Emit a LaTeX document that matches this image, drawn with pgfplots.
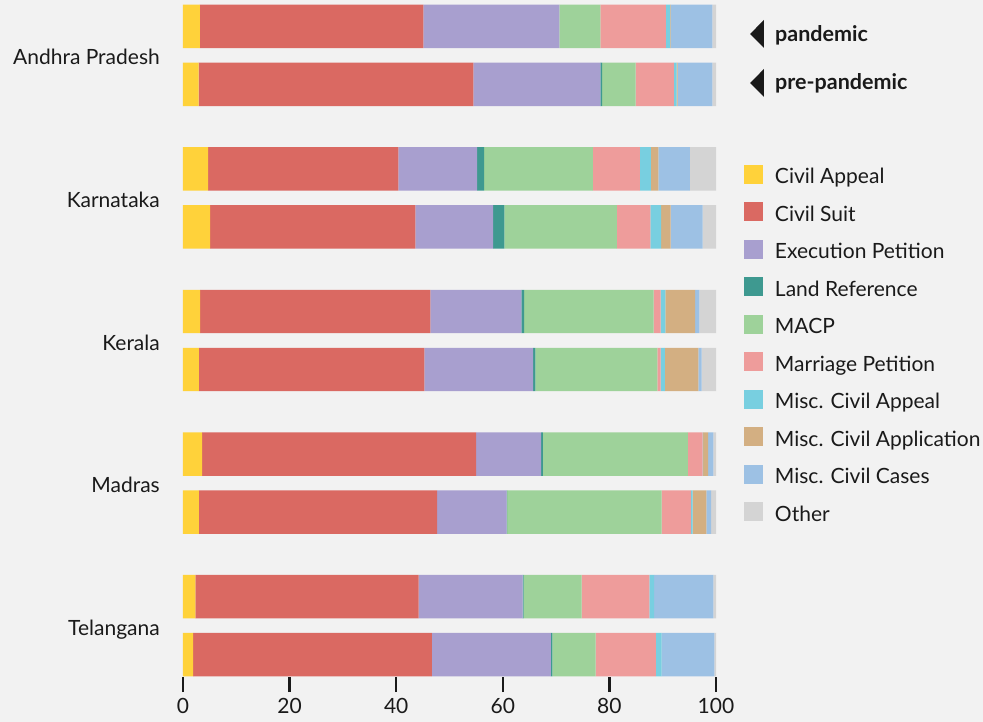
\documentclass[border=0pt]{standalone}
\usepackage{pgfplots}
\pgfplotsset{compat=1.18}
\usepackage{pgfplotstable}
\usepackage{fontspec}
\setmainfont{Lato}

\definecolor{bg}{HTML}{F2F2F2}
\definecolor{txt}{HTML}{1A1A1A}
\definecolor{cCA}{HTML}{FFD23A}
\definecolor{cCS}{HTML}{DA6962}
\definecolor{cEP}{HTML}{A89FCF}
\definecolor{cLR}{HTML}{3E9990}
\definecolor{cMACP}{HTML}{9ED29A}
\definecolor{cMP}{HTML}{EE9C9B}
\definecolor{cMCA}{HTML}{78CFE0}
\definecolor{cMCAPP}{HTML}{D3AF82}
\definecolor{cMCC}{HTML}{9DC1E4}
\definecolor{cOTH}{HTML}{D4D4D4}

% share of cases (%), pandemic row above pre-pandemic row for each court
\pgfplotstableread{
y ca cs ep lr macp mp mca mcapp mcc oth
-0.2035 3.15 41.95 25.5 0    7.7  12.3 0.8 0.1 7.8  0.7
0.2035  2.95 51.55 23.8 0.35 6.25 7.2  0.5 0.2 6.5  0.7
0.7965  4.7  35.7  14.8 1.3  20.4 8.8  2.1 1.4 5.9  4.9
1.2035  5.1  38.5  14.6 2.1  21.1 6.3  2.0 1.8 6.0  2.5
1.7965  3.2  43.2  17.1 0.5  24.3 1.3  0.9 5.6 0.8  3.1
2.2035  3.0  42.3  20.4 0.4  22.9 0.6  0.8 6.3 0.6  2.7
2.7965  3.6  51.4  12.2 0.3  27.2 2.8  0.1 0.9 1.0  0.5
3.2035  3.0  44.7  13.0 0.1  29.0 5.5  0.3 2.6 0.9  0.9
3.7965  2.3  41.9  19.5 0.2  10.9 12.7 0.9 0   11.1 0.5
4.2035  1.9  44.8  22.3 0.3  8.1  11.3 1.1 0   9.9  0.3
}\courts

\begin{document}
\begin{tikzpicture}[font=\fontsize{21}{25}\selectfont]
\fill[bg] (-183pt,-45pt) rectangle (800pt,677pt);
\begin{axis}[
    at={(0,0)}, anchor=south west,
    scale only axis, width=533pt, height=672pt,
    xbar stacked, bar width=0.305,
    every axis plot post/.append style={
        draw=none,
        legend image code/.code={\fill[##1,draw=none] (0pt,0pt) rectangle (19pt,19pt);}},
    xmin=0, xmax=100,
    ymin=-0.354, ymax=4.361, y dir=reverse,
    xtick={0,20,...,100},
    ytick={0,1,2,3,4},
    yticklabels={Andhra Pradesh,Karnataka,Kerala,Madras,Telangana},
    axis line style={draw=none},
    xtick pos=bottom, tick align=outside, major tick length=15pt,
    xtick style={draw=txt, line width=2.5pt},
    ytick style={draw=none},
    tick label style={font=\fontsize{21}{25}\selectfont, text=txt},
    /pgf/number format/assume math mode=true,
    yticklabel style={anchor=base east, inner sep=0pt, xshift=-8pt, yshift=-9.5pt},
    xticklabel style={anchor=base, inner sep=0pt, yshift=-21pt},
    clip=false,
    legend style={at={(axis cs:105.25,0.768)}, anchor=north west,
        draw=none, fill=none, inner sep=0pt, outer sep=0pt,
        row sep=14.5pt, text=txt,
        font=\fontsize{21}{25}\selectfont,
        nodes={anchor=base west, inner sep=0pt, text depth=4pt},
        /tikz/every odd column/.append style={column sep=12pt}},
]
\addplot[fill=cCA]    table[x=ca,    y=y] {\courts};
\addlegendentry{Civil Appeal}
\addplot[fill=cCS]    table[x=cs,    y=y] {\courts};
\addlegendentry{Civil Suit}
\addplot[fill=cEP]    table[x=ep,    y=y] {\courts};
\addlegendentry{Execution Petition}
\addplot[fill=cLR]    table[x=lr,    y=y] {\courts};
\addlegendentry{Land Reference}
\addplot[fill=cMACP]  table[x=macp,  y=y] {\courts};
\addlegendentry{MACP}
\addplot[fill=cMP]    table[x=mp,    y=y] {\courts};
\addlegendentry{Marriage Petition}
\addplot[fill=cMCA]   table[x=mca,   y=y] {\courts};
\addlegendentry{Misc. Civil Appeal}
\addplot[fill=cMCAPP] table[x=mcapp, y=y] {\courts};
\addlegendentry{Misc. Civil Application}
\addplot[fill=cMCC]   table[x=mcc,   y=y] {\courts};
\addlegendentry{Misc. Civil Cases}
\addplot[fill=cOTH]   table[x=oth,   y=y] {\courts};
\addlegendentry{Other}

% row markers
\fill[txt] (axis cs:106.4,-0.151) -- (axis cs:109.0,-0.249) -- (axis cs:109.0,-0.053) -- cycle;
\fill[txt] (axis cs:106.4,0.193) -- (axis cs:109.0,0.095) -- (axis cs:109.0,0.291) -- cycle;
\node[anchor=base west, inner sep=0pt, text=txt, font=\fontsize{21.5}{25}\selectfont\bfseries]
    at (axis cs:111.07,-0.097) {pandemic};
\node[anchor=base west, inner sep=0pt, text=txt, font=\fontsize{21.5}{25}\selectfont\bfseries]
    at (axis cs:111.07,0.242) {pre-pandemic};
\end{axis}
\pgfresetboundingbox
\useasboundingbox (-183pt,-45pt) rectangle (800pt,677pt);
\end{tikzpicture}
\end{document}
